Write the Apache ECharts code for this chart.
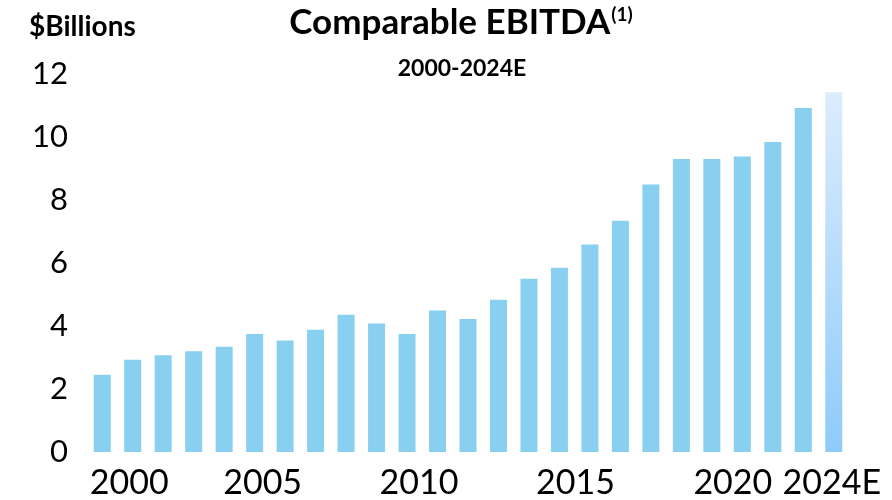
<!DOCTYPE html>
<html>
<head>
<meta charset="utf-8">
<script src="https://cdn.jsdelivr.net/npm/echarts@6/dist/echarts.min.js"></script>
<style>
  html, body { margin: 0; padding: 0; background: #fff; }
  #myChart { width: 892px; height: 500px; }
</style>
</head>
<body>
<div id="myChart"></div>
<script>
// data
var years = ['2000','2001','2002','2003','2004','2005','2006','2007','2008','2009',
             '2010','2011','2012','2013','2014','2015','2016','2017','2018','2019',
             '2020','2021','2022','2023','2024E'];
var ebitda = [2.45, 2.93, 3.07, 3.20, 3.34, 3.75, 3.54, 3.88, 4.36, 4.08,
              3.75, 4.49, 4.22, 4.83, 5.50, 5.85, 6.59, 7.34, 8.49, 9.30,
              9.30, 9.38, 9.84, 10.92];
var estimate2024 = 11.42;
var xTickLabels = ['2000','2005','2010','2015','2020','2024E'];
var yTicks = [0, 2, 4, 6, 8, 10, 12];

// label nudges, px (labels in the source sit a bit off the bar centres)
var labelShift = {'2000': 27, '2005': 8, '2010': 12, '2015': 16, '2020': 21, '2024E': -2};

var font = 'Lato, "Open Sans", sans-serif';
var barColor = '#89cff0';

var chart = echarts.init(document.getElementById('myChart'));

var rich = {};
xTickLabels.forEach(function (t, i) {
    var s = labelShift[t] || 0;
    rich['l' + i] = {
        fontFamily: font,
        fontSize: 34,
        color: '#000',
        padding: s >= 0 ? [0, 0, 0, 2 * s] : [0, -2 * s, 0, 0]
    };
});

var barData = ebitda.map(function (v) { return v; });
barData.push({
    value: estimate2024,
    itemStyle: {
        color: new echarts.graphic.LinearGradient(0, 0, 0, 1, [
            {offset: 0, color: '#dcecfc'},
            {offset: 1, color: '#8ecbfa'}
        ])
    }
});

chart.setOption({
    animation: false,
    backgroundColor: '#fff',
    title: [
        {
            text: '{t|Comparable EBITDA}{s|(1)}',
            left: 456, top: 0, textAlign: 'center',
            textStyle: {
                rich: {
                    t: {fontFamily: font, fontWeight: 'bold', fontSize: 35, color: '#000'},
                    s: {fontFamily: font, fontWeight: 'bold', fontSize: 19, color: '#000', verticalAlign: 'top', padding: [0, 0, 14, 1]}
                }
            }
        },
        {
            text: '2000-2024E',
            left: 457, top: 52, textAlign: 'center',
            textStyle: {fontFamily: font, fontWeight: 'bold', fontSize: 23, color: '#000'}
        },
        {
            text: '$Billions',
            left: 24, top: 8,
            textStyle: {fontFamily: font, fontWeight: 'bold', fontSize: 28, color: '#000'}
        }
    ],
    grid: {left: 87, right: 43, top: 74, bottom: 48, containLabel: false},
    xAxis: {
        type: 'category',
        data: years,
        axisLine: {show: false},
        axisTick: {show: false},
        splitLine: {show: false},
        axisLabel: {
            interval: 0,
            margin: 14,
            formatter: function (v) {
                var i = xTickLabels.indexOf(v);
                return i < 0 ? '' : '{l' + i + '|' + v + '}';
            },
            rich: rich
        }
    },
    yAxis: {
        type: 'value',
        min: yTicks[0],
        max: yTicks[yTicks.length - 1],
        interval: 2,
        axisLine: {show: false},
        axisTick: {show: false},
        splitLine: {show: false},
        axisLabel: {
            margin: 19,
            fontFamily: font,
            fontSize: 31,
            color: '#000'
        }
    },
    series: [{
        name: 'Comparable EBITDA',
        type: 'bar',
        data: barData,
        barWidth: 17,
        itemStyle: {color: barColor}
    }]
});
</script>
</body>
</html>
